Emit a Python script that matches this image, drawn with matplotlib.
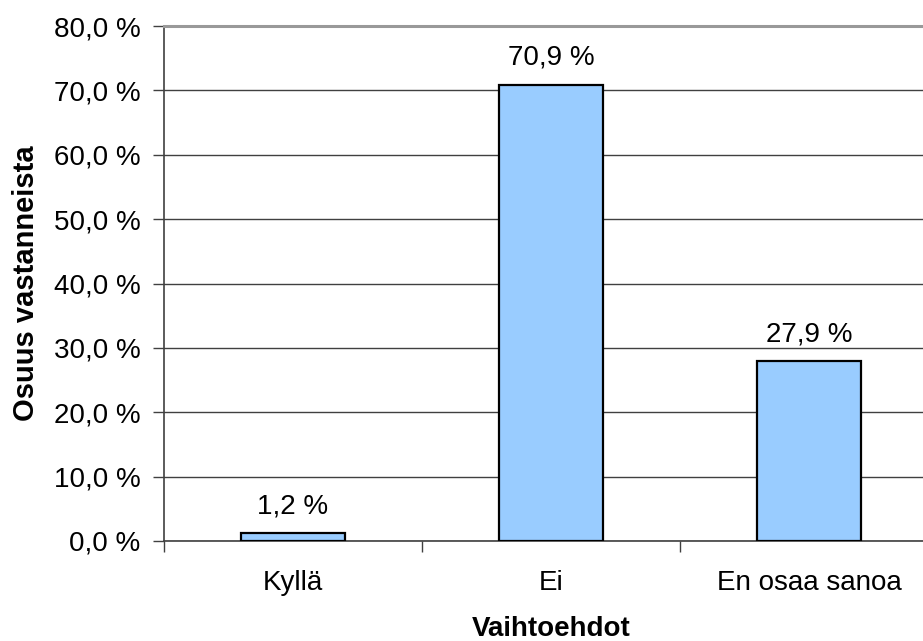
import matplotlib
matplotlib.use("Agg")
import matplotlib.pyplot as plt
import numpy as np

categories = ["Kyllä", "Ei", "En osaa sanoa"]
shares = [1.2, 70.9, 27.9]
y_ticks = [0, 10, 20, 30, 40, 50, 60, 70, 80]

plt.rcParams["font.family"] = ["Liberation Sans", "DejaVu Sans"]
plt.rcParams["font.size"] = 20


def pct(value: float) -> str:
    """Finnish style percentage: decimal comma and a space before %."""
    return f"{value:.1f}".replace(".", ",") + " %"


fig = plt.figure(figsize=(9.23, 6.41), dpi=100)
# the plot area runs a little past the right edge of the picture
ax = fig.add_axes([164 / 923, 1 - 541 / 641, (938 - 164) / 923, (541 - 26) / 641])

x = np.arange(len(categories))
ax.bar(x, shares, width=0.4, color="#99ccff", edgecolor="black",
       linewidth=1.6, zorder=3)
for xi, value in zip(x, shares):
    ax.annotate(pct(value), (xi, value), xytext=(0, 10),
                textcoords="offset points", ha="center", va="bottom")

ax.set_xlim(-0.5, len(categories) - 0.5)
ax.set_ylim(0, 80)
ax.set_yticks(y_ticks)
ax.set_yticklabels([pct(v) for v in y_ticks])
ax.set_xticks(x)
ax.set_xticklabels(categories)
ax.set_xticks(np.arange(len(categories) + 1) - 0.5, minor=True)
ax.tick_params(axis="x", which="major", length=0, pad=21)
ax.tick_params(axis="x", which="minor", length=8, width=1, color="#404040")
ax.tick_params(axis="y", length=8, width=1, color="#404040", pad=9)

ax.grid(True, axis="y", color="#404040", linewidth=1, zorder=0)
ax.set_axisbelow(True)
for side in ("left", "bottom"):
    ax.spines[side].set_color("#404040")
    ax.spines[side].set_linewidth(1.2)
ax.spines["top"].set_color("#999999")
ax.spines["top"].set_linewidth(2.2)
ax.spines["right"].set_visible(False)

ax.set_xlabel("Vaihtoehdot", fontweight="bold", labelpad=14)
ax.set_ylabel("Osuus vastanneista", fontweight="bold", labelpad=10,
              fontsize=21)

fig.savefig("out.png", dpi=100)
